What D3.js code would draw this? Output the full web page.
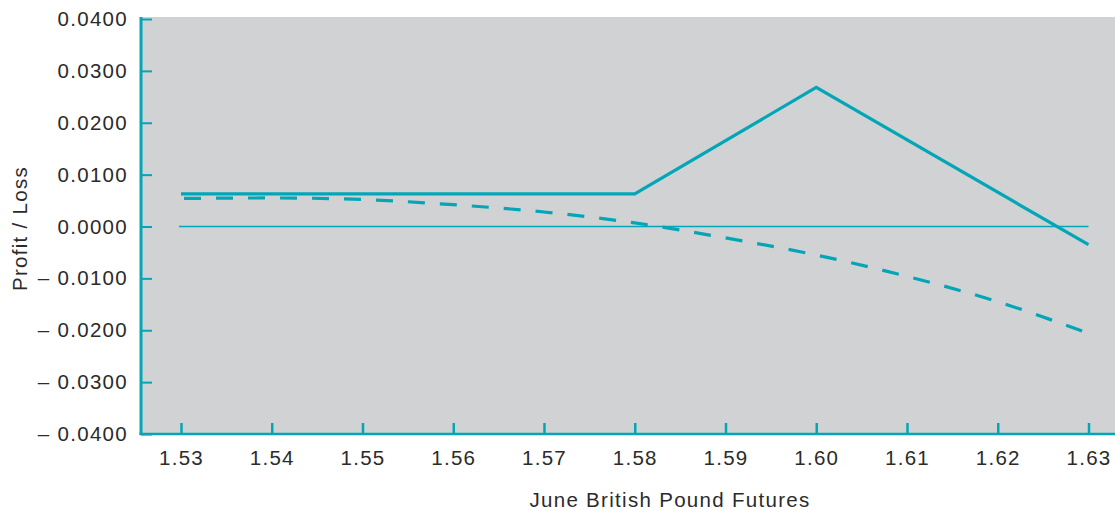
<!DOCTYPE html>
<html>
<head>
<meta charset="utf-8">
<script src="https://cdn.jsdelivr.net/npm/d3@7"></script>
<style>
  body { margin: 0; background: #fff; }
  svg text { font-family: "Liberation Sans", Arial, sans-serif; fill: #2b2b2b; letter-spacing: 1.3px; }
</style>
</head>
<body>
<svg id="chart" width="1115" height="510"></svg>
<script>
// futures prices on the x axis
const prices = [1.53, 1.54, 1.55, 1.56, 1.57, 1.58, 1.59, 1.60, 1.61, 1.62, 1.63];
const yTicks = [0.04, 0.03, 0.02, 0.01, 0, -0.01, -0.02, -0.03, -0.04];

// solid line: payoff at expiry (kinks only)
const expiryX = [1.53, 1.58, 1.60, 1.63];
const expiryY = [0.0063, 0.0063, 0.0268, -0.0035];

// dashed curve: value before expiry
const currentY = [0.0054, 0.0055, 0.0052, 0.0042, 0.0028, 0.0007, -0.0022, -0.0055, -0.0096, -0.0145, -0.0206];

const teal = '#03a6b6';
const fontSize = 20.5;
const svg = d3.select('#chart');

const x = d3.scaleLinear().domain([1.53, 1.63]).range([181, 1088.5]);
const y = d3.scaleLinear().domain([-0.04, 0.04]).range([434, 19]);

const plotLeft = 141;
const plotRight = 1115;

svg.append('rect')
  .attr('x', plotLeft)
  .attr('y', y(0.04) - 2)
  .attr('width', plotRight - plotLeft)
  .attr('height', y(-0.04) - y(0.04) + 2)
  .attr('fill', '#d1d2d4');

// zero line
svg.append('line')
  .attr('x1', x(1.53) - 2).attr('x2', x(1.63))
  .attr('y1', y(0)).attr('y2', y(0))
  .attr('stroke', teal).attr('stroke-width', 1.5);

const fmtY = (d) => {
  if (d < 0) return '\u2013 ' + Math.abs(d).toFixed(4);
  return d.toFixed(4);
};

const yAxis = svg.append('g')
  .attr('transform', `translate(${plotLeft},0)`)
  .call(d3.axisLeft(y).tickValues(yTicks).tickSizeInner(-11).tickSizeOuter(0).tickPadding(13).tickFormat(fmtY));
yAxis.select('.domain').remove();
yAxis.selectAll('.tick line').attr('stroke', teal).attr('stroke-width', 2);
yAxis.selectAll('.tick text').attr('font-size', fontSize).attr('fill', '#2b2b2b');

const xAxis = svg.append('g')
  .attr('transform', `translate(0,${y(-0.04)})`)
  .call(d3.axisBottom(x).tickValues(prices).tickSizeInner(-11).tickSizeOuter(0).tickPadding(16).tickFormat(d3.format('.2f')));
xAxis.select('.domain').remove();
xAxis.selectAll('.tick line').attr('stroke', teal).attr('stroke-width', 2.5);
xAxis.selectAll('.tick text').attr('font-size', fontSize).attr('fill', '#2b2b2b');

// axis lines
svg.append('line')
  .attr('x1', plotLeft).attr('x2', plotLeft)
  .attr('y1', y(0.04) - 2).attr('y2', y(-0.04) + 1)
  .attr('stroke', teal).attr('stroke-width', 3);
svg.append('line')
  .attr('x1', plotLeft - 1.5).attr('x2', plotRight)
  .attr('y1', y(-0.04)).attr('y2', y(-0.04))
  .attr('stroke', teal).attr('stroke-width', 2.5);

// curves
const expiryLine = d3.line().x((d) => x(d[0])).y((d) => y(d[1]));
svg.append('path')
  .datum(expiryX.map((p, i) => [p, expiryY[i]]))
  .attr('d', expiryLine)
  .attr('fill', 'none')
  .attr('stroke', teal)
  .attr('stroke-width', 3.2)
  .attr('stroke-linejoin', 'miter');

const currentLine = d3.line().curve(d3.curveMonotoneX).x((d) => x(d[0])).y((d) => y(d[1]));
svg.append('path')
  .datum(prices.map((p, i) => [p, currentY[i]]))
  .attr('d', currentLine)
  .attr('fill', 'none')
  .attr('stroke', teal)
  .attr('stroke-width', 3.2)
  .attr('stroke-dasharray', '17,15')
  .attr('stroke-dashoffset', -3);

// axis titles
svg.append('text')
  .attr('transform', `translate(27,${y(0) + 2}) rotate(-90)`)
  .attr('text-anchor', 'middle')
  .attr('font-size', fontSize)
  .text('Profit / Loss');

svg.append('text')
  .attr('x', 670)
  .attr('y', 507)
  .attr('text-anchor', 'middle')
  .attr('font-size', fontSize)
  .text('June British Pound Futures');
</script>
</body>
</html>
